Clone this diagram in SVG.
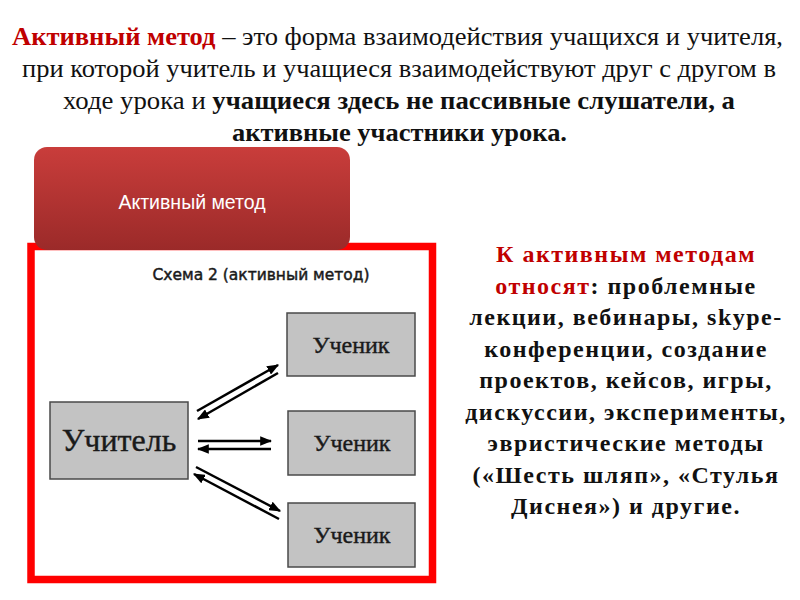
<svg xmlns="http://www.w3.org/2000/svg" width="800" height="600" viewBox="0 0 800 600">
<defs>
<linearGradient id="rg" x1="0" y1="0" x2="0" y2="1">
<stop offset="0" stop-color="#c93d3b"/>
<stop offset="1" stop-color="#9b2a29"/>
</linearGradient>
<marker id="ah" viewBox="0 0 10 8" refX="9" refY="4" markerWidth="4.8" markerHeight="3.9" orient="auto" markerUnits="strokeWidth">
<path d="M0,0 L10,4 L0,8 Z" fill="#000"/>
</marker>
<style>
.hd{font-family:"Liberation Serif","Times New Roman",serif;font-size:25px;fill:#111;text-anchor:middle}
.rt{font-family:"Liberation Serif","Times New Roman",serif;font-size:24px;font-weight:bold;fill:#111;text-anchor:middle;letter-spacing:1.5px}
.red{fill:#c00000}
.box{fill:#c3c3c3;stroke:#4a4a4a;stroke-width:1.5}
.lbl{font-family:"Liberation Serif","Times New Roman",serif;fill:#1a1a1a;text-anchor:middle;stroke:#1a1a1a;stroke-width:0.4}
.arr{stroke:#000;stroke-width:2.5;fill:none;marker-end:url(#ah)}
</style>
</defs>
<rect width="800" height="600" fill="#fff"/>
<g id="header">
<text class="hd" x="397.5" y="45" textLength="771" lengthAdjust="spacingAndGlyphs"><tspan class="red" font-weight="bold">Активный метод</tspan> – это форма взаимодействия учащихся и учителя,</text>
<text class="hd" x="399" y="77" textLength="754" lengthAdjust="spacingAndGlyphs">при которой учитель и учащиеся взаимодействуют друг с другом в</text>
<text class="hd" x="399" y="109" textLength="672" lengthAdjust="spacingAndGlyphs">ходе урока и <tspan font-weight="bold">учащиеся здесь не пассивные слушатели, а</tspan></text>
<text class="hd" x="399.5" y="141" font-weight="bold" textLength="335" lengthAdjust="spacingAndGlyphs">активные участники урока.</text>
</g>
<g id="frame">
<rect x="31" y="246.5" width="401.5" height="333" fill="#fff" stroke="#ff0000" stroke-width="7.5"/>
</g>
<g id="method-button">
<rect x="34" y="147" width="316" height="103" rx="13" fill="url(#rg)"/>
<text x="192" y="209" font-family="Liberation Sans, Arial, sans-serif" font-size="19.5" fill="#fff" text-anchor="middle">Активный метод</text>
</g>
<g id="scheme-title">
<text x="261" y="280" font-family="DejaVu Sans, sans-serif" font-size="15" fill="#1a1a1a" stroke="#1a1a1a" stroke-width="0.45" text-anchor="middle" textLength="217" lengthAdjust="spacingAndGlyphs">Схема 2 (активный метод)</text>
</g>
<g id="teacher">
<rect class="box" x="50" y="402" width="138" height="77"/>
<text class="lbl" x="119" y="451" font-size="32">Учитель</text>
</g>
<g id="student1">
<rect class="box" x="287" y="313" width="128" height="63"/>
<text class="lbl" x="351" y="353" font-size="24">Ученик</text>
</g>
<g id="student2">
<rect class="box" x="288" y="411" width="127" height="64"/>
<text class="lbl" x="352" y="451" font-size="24">Ученик</text>
</g>
<g id="student3">
<rect class="box" x="288" y="503" width="127" height="64"/>
<text class="lbl" x="352" y="543" font-size="24">Ученик</text>
</g>
<g id="connectors">
<line class="arr" x1="197" y1="411" x2="278" y2="365"/>
<line class="arr" x1="278" y1="373" x2="198" y2="419"/>
<line class="arr" x1="198" y1="441" x2="271" y2="441"/>
<line class="arr" x1="271" y1="449" x2="198" y2="449"/>
<line class="arr" x1="196" y1="467" x2="280" y2="511"/>
<line class="arr" x1="279" y1="519" x2="194" y2="474"/>
</g>
<g id="methods-text">
<text class="rt" x="626" y="262"><tspan class="red">К активным методам</tspan></text>
<text class="rt" x="626" y="294"><tspan class="red">относят</tspan>: проблемные</text>
<text class="rt" x="626" y="325">лекции, вебинары, skype-</text>
<text class="rt" x="626" y="357">конференции, создание</text>
<text class="rt" x="626" y="388">проектов, кейсов, игры,</text>
<text class="rt" x="626" y="420">дискуссии, эксперименты,</text>
<text class="rt" x="626" y="451">эвристические методы</text>
<text class="rt" x="626" y="483">(«Шесть шляп», «Стулья</text>
<text class="rt" x="626" y="514">Диснея») и другие.</text>
</g>
</svg>
